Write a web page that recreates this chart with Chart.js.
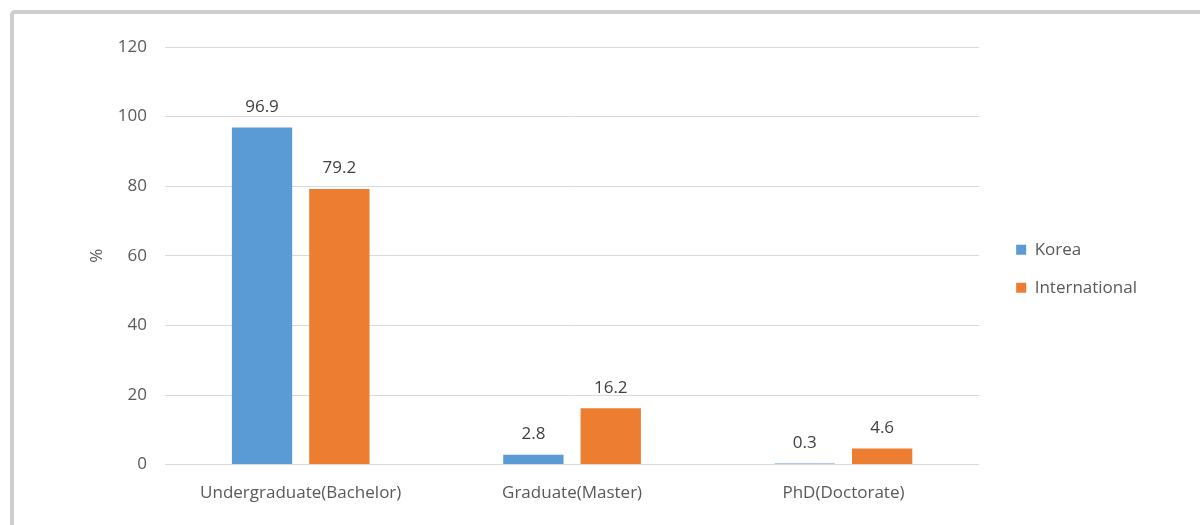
<!DOCTYPE html>
<html>
<head>
<meta charset="utf-8">
<script src="https://cdn.jsdelivr.net/npm/chart.js@4"></script>
<style>
  html, body { margin: 0; padding: 0; background: #fff; overflow: hidden; }
  .marco {
    position: absolute; left: 10px; top: 10px; width: 1200px; height: 530px;
    border: 4px solid #cdcdcd; border-radius: 5px; box-sizing: border-box;
  }
  #wrap { position: absolute; left: 0; top: 0; width: 1200px; height: 525px; }
</style>
</head>
<body>
<div class="marco"></div>
<div id="wrap"><canvas id="chart"></canvas></div>
<script>
// Datos del gráfico
const categorias = ['Undergraduate(Bachelor)', 'Graduate(Master)', 'PhD(Doctorate)'];
const korea = [96.9, 2.8, 0.3];
const internacional = [79.2, 16.2, 4.6];
const ticksY = [0, 20, 40, 60, 80, 100, 120];

const fuente = "'Open Sans', 'Noto Sans', sans-serif";

// Etiquetas con el valor sobre cada barra
const etiquetasValor = {
    id: 'etiquetasValor',
    afterDatasetsDraw(chart) {
        const ctx = chart.ctx;
        ctx.save();
        ctx.font = '17px ' + fuente;
        ctx.fillStyle = '#404040';
        ctx.textAlign = 'center';
        ctx.textBaseline = 'bottom';
        chart.data.datasets.forEach((ds, i) => {
            const meta = chart.getDatasetMeta(i);
            meta.data.forEach((bar, j) => {
                ctx.fillText(ds.data[j].toFixed(1), bar.x, bar.y - 12);
            });
        });
        ctx.restore();
    }
};

new Chart(document.getElementById('chart'), {
    type: 'bar',
    data: {
        labels: categorias,
        datasets: [
            { label: 'Korea', data: korea, backgroundColor: '#5b9bd5' },
            { label: 'International', data: internacional, backgroundColor: '#ed7d31' }
        ]
    },
    options: {
        responsive: true,
        maintainAspectRatio: false,
        animation: false,
        layout: { padding: { left: 83, top: 47, right: 53, bottom: 4 } },
        datasets: { bar: { categoryPercentage: 0.57, barPercentage: 0.78 } },
        plugins: {
            tooltip: { enabled: false },
            legend: {
                position: 'right',
                fullSize: false,
                // título vacío: solo baja un poco las entradas de la leyenda
                title: { display: true, text: ' ', padding: 5, font: { size: 10, lineHeight: 1.6 } },
                labels: {
                    boxWidth: 10, boxHeight: 10, padding: 21,
                    color: '#595959',
                    font: { family: fuente, size: 17 }
                }
            }
        },
        scales: {
            x: {
                grid: { display: false, drawTicks: false },
                border: { display: false },
                ticks: { color: '#595959', padding: 18, font: { family: fuente, size: 17 } }
            },
            y: {
                min: 0, max: 120,
                afterFit(s) { s.width = 82; },
                afterBuildTicks(s) { s.ticks = ticksY.map(v => ({ value: v })); },
                grid: { color: '#d9d9d9', drawTicks: false },
                border: { display: false },
                ticks: { color: '#595959', padding: 18, font: { family: fuente, size: 17 } },
                title: { display: true, text: '%', color: '#595959', font: { family: fuente, size: 17 } }
            },
            // espacio entre el área del gráfico y la leyenda
            hueco: {
                position: 'right', display: true,
                afterFit(s) { s.width = 16; },
                grid: { display: false }, border: { display: false },
                ticks: { display: false }
            }
        }
    },
    plugins: [etiquetasValor]
});
</script>
</body>
</html>
